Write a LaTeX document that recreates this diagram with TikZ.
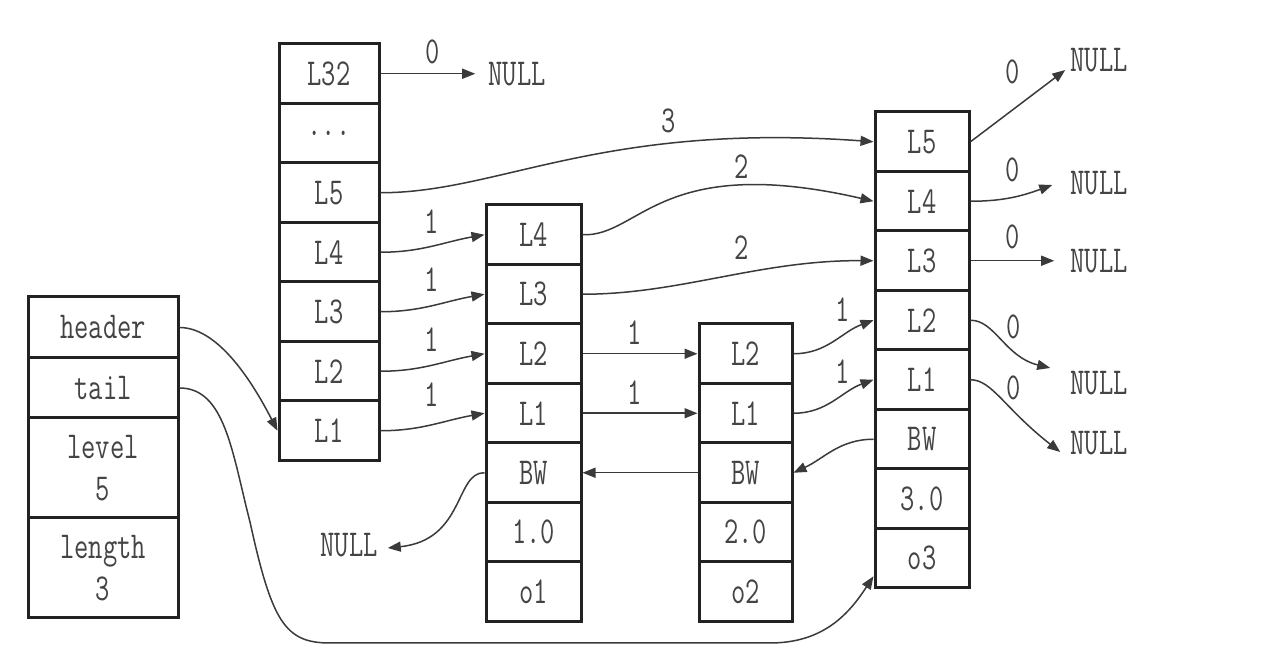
\documentclass[tikz,border=0pt]{standalone}
\usepackage{fontspec}
\newfontfamily\cellfont{Latin Modern Mono}[FakeStretch=0.73]
\usetikzlibrary{arrows.meta}
\definecolor{txt}{HTML}{444444}
\definecolor{ln}{HTML}{3a3a3a}
\definecolor{bd}{HTML}{222222}
\tikzset{
  cell/.style={draw=bd, line width=3pt, minimum height=59.5pt, inner sep=0pt,
    font=\cellfont\fontsize{38}{42}\selectfont, text=txt, align=center},
  hcell/.style={cell, minimum width=100pt},
  acell/.style={cell, minimum width=95pt},
  bcell/.style={cell, minimum width=93pt},
  ccell/.style={cell, minimum width=94pt},
  scell/.style={cell, minimum width=150pt},
  conn/.style={draw=ln, line width=1.5pt, -{Triangle[length=13pt,width=10pt]}},
  lab/.style={font=\cellfont\fontsize{38}{42}\selectfont, text=txt, inner sep=0pt},
  nul/.style={font=\cellfont\fontsize{38}{42}\selectfont, text=txt, inner sep=0pt}
}
\begin{document}
\begin{tikzpicture}[x=1pt,y=1pt]
\useasboundingbox[fill=white] (0,0) rectangle (1266,652);
% list struct
\node[scell, minimum height=61pt] (sh) at (103,324.5) {header};
\node[scell, minimum height=60pt] (st) at (103,264) {tail};
\node[scell, minimum height=100pt] (sl) at (103,184) {level\\5};
\node[scell, minimum height=100pt] (sn) at (103,84) {length\\3};
% header node
\node[hcell] (h32) at (329,578.25) {L32};
\node[hcell] (hd) at (329,518.75) {...};
\node[hcell] (h5) at (329,459.25) {L5};
\node[hcell] (h4) at (329,399.75) {L4};
\node[hcell] (h3) at (329,340.25) {L3};
\node[hcell] (h2) at (329,280.75) {L2};
\node[hcell] (h1) at (329,221.25) {L1};
% o1
\node[acell] (a4) at (533.5,417.25) {L4};
\node[acell] (a3) at (533.5,357.75) {L3};
\node[acell] (a2) at (533.5,298.25) {L2};
\node[acell] (a1) at (533.5,238.75) {L1};
\node[acell] (abw) at (533.5,179.25) {BW};
\node[acell] (asc) at (533.5,119.75) {1.0};
\node[acell] (ao) at (533.5,60.25) {o1};
% o2
\node[bcell] (b2) at (745.5,298.25) {L2};
\node[bcell] (b1) at (745.5,238.75) {L1};
\node[bcell] (bbw) at (745.5,179.25) {BW};
\node[bcell] (bsc) at (745.5,119.75) {2.0};
\node[bcell] (bo) at (745.5,60.25) {o2};
% o3
\node[ccell] (c5) at (922,510.25) {L5};
\node[ccell] (c4) at (922,450.75) {L4};
\node[ccell] (c3) at (922,391.25) {L3};
\node[ccell] (c2) at (922,331.75) {L2};
\node[ccell] (c1) at (922,272.25) {L1};
\node[ccell] (cbw) at (922,212.75) {BW};
\node[ccell] (csc) at (922,153.25) {3.0};
\node[ccell] (co) at (922,93.75) {o3};
% NULLs
\node[nul] (n32) at (517,578.25) {NULL};
\node[nul] (nc5) at (1099,592) {NULL};
\node[nul] (nc4) at (1099,469) {NULL};
\node[nul] (nc3) at (1099,391.25) {NULL};
\node[nul] (nc2) at (1099,269) {NULL};
\node[nul] (nc1) at (1099,209) {NULL};
\node[nul] (nbw) at (349,107) {NULL};
% connectors
\draw[conn] (h32.east) -- ([xshift=-13pt]n32.west);
\draw[conn] (h5.east) .. controls (500,459.25) and (600,530) .. (c5.west);
\draw[conn] (a4.east) .. controls (640,415) and (660,500) .. (c4.west);
\draw[conn] (a3.east) .. controls (680,357.75) and (760,392) .. (c3.west);
\foreach \s/\t in {h4/a4,h3/a3,h2/a2,h1/a1}
  \draw[conn] (\s.east) to[out=0,in=190] (\t.west);
\draw[conn] (a2.east) -- (b2.west);
\draw[conn] (a1.east) -- (b1.west);
\draw[conn] (b2.east) to[out=0,in=200] (c2.west);
\draw[conn] (b1.east) to[out=0,in=200] (c1.west);
\draw[conn] (cbw.west) to[out=180,in=25] (bbw.east);
\draw[conn] (bbw.west) -- (abw.east);
\draw[conn] (abw.west) .. controls (455,180) and (465,112) .. ([xshift=10pt,yshift=-3pt]nbw.east);
\draw[conn] (c5.east) -- ([xshift=-5pt,yshift=2pt]nc5.south west);
\draw[conn] (c4.east) to[out=0,in=200] ([xshift=-18pt,yshift=-2pt]nc4.west);
\draw[conn] (c3.east) -- ([xshift=-16pt]nc3.west);
\draw[conn] (c2.east) .. controls (995,331.75) and (1005,295) .. ([xshift=-20pt,yshift=3pt]nc2.north west);
\draw[conn] (c1.east) .. controls (992,272.25) and (1005,243) .. ([xshift=-10pt,yshift=-9pt]nc1.west);
\draw[conn] (sh.east) .. controls (220,324.5) and (255,265) .. (h1.west);
\draw[conn] (st.east) .. controls (225,264) and (232,200) .. (250,130)
   .. controls (272,30) and (285,9) .. (330,9) -- (770,9)
   .. controls (825,9) and (850,40) .. ([yshift=-18pt]co.west);
% labels
\node[lab] (l32) at (433,600) {0};
\node[lab] (l5) at (669,531) {3};
\node[lab] (l4) at (742,485) {2};
\node[lab] (l3) at (742,404) {2};
\node[lab] (lc5) at (1013,580) {0};
\node[lab] (lc4) at (1013,482) {0};
\node[lab] (lc3) at (1013,415) {0};
\node[lab] (lc2) at (1014,325) {0};
\node[lab] (lc1) at (1014,264) {0};
\node[lab] (lh4) at (432,430) {1};
\node[lab] (lh3) at (432,372) {1};
\node[lab] (lh2) at (432,312) {1};
\node[lab] (lh1) at (432,257) {1};
\node[lab] (la2) at (635,319) {1};
\node[lab] (la1) at (635,259) {1};
\node[lab] (lb2) at (843,342) {1};
\node[lab] (lb1) at (843,280) {1};
\end{tikzpicture}
\end{document}
